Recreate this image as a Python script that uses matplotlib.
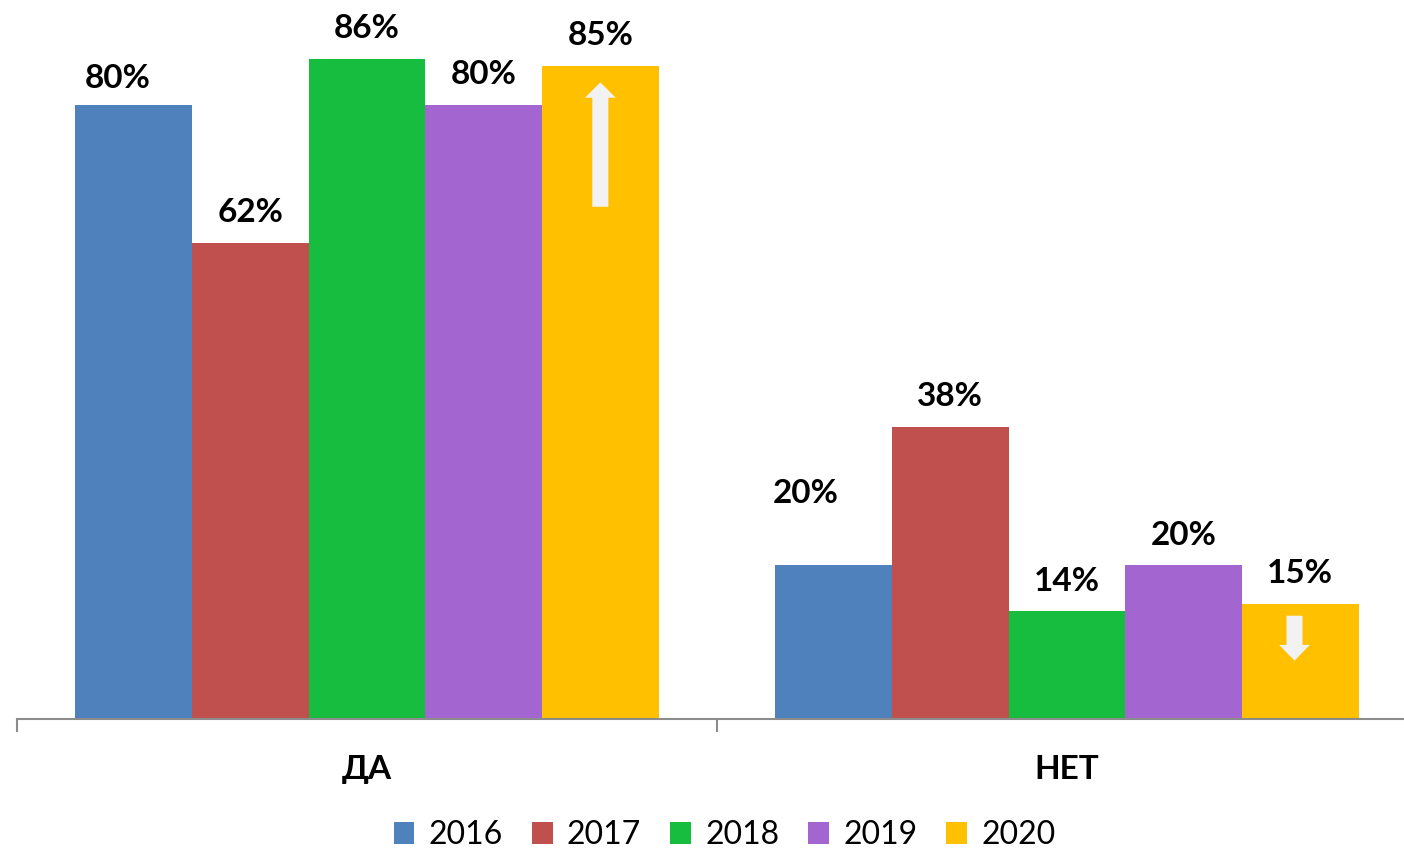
import matplotlib
matplotlib.use('Agg')
import matplotlib.pyplot as plt
from matplotlib.patches import FancyArrow, Patch
import numpy as np

plt.rcParams['font.family'] = ['Lato', 'DejaVu Sans']

# Daten
categories = ['ДА', 'НЕТ']
years = ['2016', '2017', '2018', '2019', '2020']
values = {
    '2016': [80, 20],
    '2017': [62, 38],
    '2018': [86, 14],
    '2019': [80, 20],
    '2020': [85, 15],
}
colors = ['#4F81BD', '#C0504D', '#17BD3F', '#A366D1', '#FFC000']

fig = plt.figure(figsize=(14.04, 8.5), dpi=100)
# Achse: Basislinie bei y=719px, Kategorien-Breite 700px
ax = fig.add_axes([17 / 1404, 131 / 850, 1400 / 1404, 689.4 / 850])

x = np.arange(len(categories))
bw = 1 / 6
for i, (yr, col) in enumerate(zip(years, colors)):
    pos = x + (i - 2) * bw
    bars = ax.bar(pos, values[yr], width=bw, color=col, linewidth=0)
    for j, (p, v) in enumerate(zip(pos, values[yr])):
        # Labels von 2016 sind in der Vorlage verschoben
        off = (0, 15)
        if yr == '2016':
            off = [(-11.5, 12.2), (-19.8, 44.6)][j]
        ax.annotate(f'{v}%', (p, v), xytext=off, textcoords='offset points',
                    ha='center', va='baseline', fontsize=24, fontweight='bold',
                    annotation_clip=False)

# Pfeile im 2020-Balken
ax.add_patch(FancyArrow(x[0] + 2 * bw, 66.7, 0, 16.2, width=0.0229, head_width=0.044,
                        head_length=2.0, length_includes_head=True, color='#F2F2F2', lw=0))
ax.add_patch(FancyArrow(x[1] + 1.95 * bw, 13.45, 0, -5.85, width=0.0229, head_width=0.044,
                        head_length=2.05, length_includes_head=True, color='#F2F2F2', lw=0))

ax.set_xlim(-0.5, 1.5)
ax.set_ylim(0, 89.77)
for s in ['left', 'right', 'top']:
    ax.spines[s].set_visible(False)
ax.spines['bottom'].set_color('#8C8C8C')
ax.spines['bottom'].set_linewidth(1.5)
ax.set_yticks([])
ax.set_xticks(x)
ax.set_xticklabels(categories, fontsize=24, fontweight='bold')
ax.tick_params(axis='x', which='major', length=0, pad=26)
ax.set_xticks([-0.5, 0.5, 1.5], minor=True)
ax.tick_params(axis='x', which='minor', length=9, width=1.5, color='#8C8C8C', direction='out')

handles = [Patch(facecolor=c, edgecolor='none') for c in colors]
fig.legend(handles, years, loc='lower center', ncol=5, frameon=False, fontsize=23,
           bbox_to_anchor=(0.516, -0.034), handlelength=0.65, handleheight=0.65,
           handletextpad=0.45, columnspacing=0.9)

plt.savefig('out.png', dpi=100)
